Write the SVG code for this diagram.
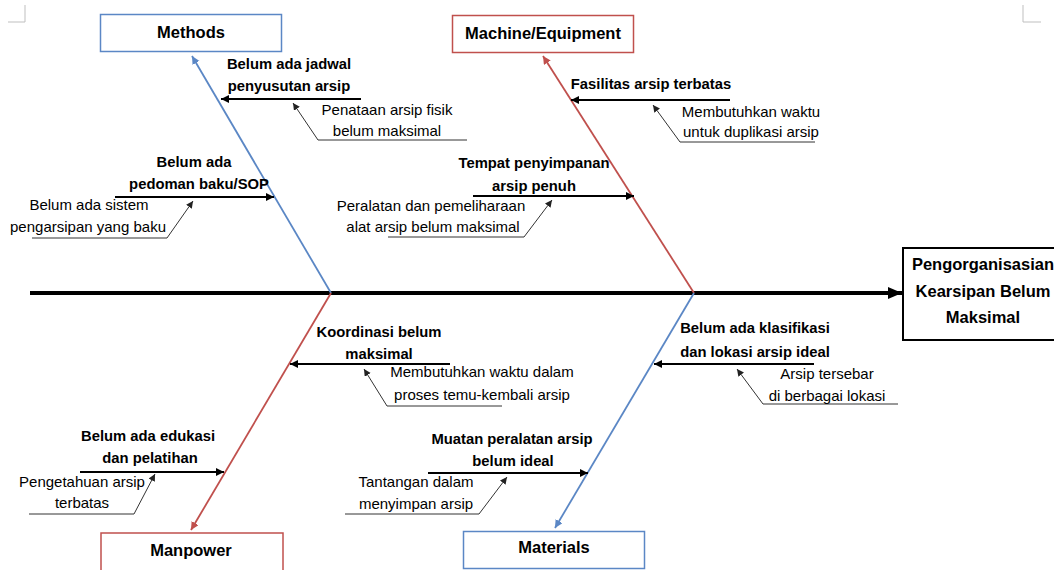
<svg xmlns="http://www.w3.org/2000/svg" width="1054" height="570" viewBox="0 0 1054 570">
<style>
.lbl{font-family:"Liberation Sans",Arial,sans-serif;font-weight:bold;font-size:16.5px;fill:#000;text-anchor:middle}
.b{font-family:"Liberation Sans",Arial,sans-serif;font-weight:bold;font-size:14.8px;fill:#000;text-anchor:middle}
.r{font-family:"Liberation Sans",Arial,sans-serif;font-size:15px;fill:#000;text-anchor:middle}
.bluebox{fill:#fff;stroke:#5B87C5;stroke-width:1.5}
.redbox{fill:#fff;stroke:#C0504D;stroke-width:1.5}
.blue{stroke:#5B87C5;stroke-width:1.8;fill:none}
.red{stroke:#C0504D;stroke-width:1.8;fill:none}
.sub{stroke:#000;stroke-width:2;fill:none}
.thin{stroke:#333;stroke-width:1;fill:none}
.corner{stroke:#bfbfbf;stroke-width:1;fill:none}
</style>
<defs>
<marker id="ab" markerWidth="10" markerHeight="10" refX="8" refY="4" orient="auto" markerUnits="userSpaceOnUse"><path d="M0,0 L8,4 L0,8 Z" fill="#000"/></marker>
<marker id="at" markerWidth="10" markerHeight="10" refX="7" refY="3.5" orient="auto" markerUnits="userSpaceOnUse"><path d="M0,0 L7,3.5 L0,7 Z" fill="#222"/></marker>
<marker id="abl" markerWidth="10" markerHeight="10" refX="8" refY="4" orient="auto" markerUnits="userSpaceOnUse"><path d="M0,0 L8,4 L0,8 Z" fill="#5B87C5"/></marker>
<marker id="are" markerWidth="10" markerHeight="10" refX="8" refY="4" orient="auto" markerUnits="userSpaceOnUse"><path d="M0,0 L8,4 L0,8 Z" fill="#C0504D"/></marker>
<marker id="asp" markerWidth="16" markerHeight="14" refX="14" refY="6" orient="auto" markerUnits="userSpaceOnUse"><path d="M0,0 L14,6 L0,12 Z" fill="#000"/></marker>
</defs>
<path class="corner" d="M8,22 H25 V5"/>
<path class="corner" d="M1023,5 V22 H1041"/>
<g id="connectors">
<line x1="30" y1="293" x2="902" y2="293" stroke="#000" stroke-width="4" marker-end="url(#asp)"/>
<line class="blue" x1="331" y1="293" x2="192" y2="56" marker-end="url(#abl)"/>
<line class="red" x1="694" y1="293" x2="543" y2="56" marker-end="url(#are)"/>
<line class="red" x1="331" y1="293" x2="191" y2="530" marker-end="url(#are)"/>
<line class="blue" x1="694" y1="293" x2="555" y2="528" marker-end="url(#abl)"/>
<line class="sub" x1="361" y1="99" x2="221" y2="99" marker-end="url(#ab)"/>
<path class="thin" d="M467,140 H318 L293,103" marker-end="url(#at)"/>
<line class="sub" x1="115" y1="197" x2="274" y2="197" marker-end="url(#ab)"/>
<path class="thin" d="M32,238 H167 L193,201" marker-end="url(#at)"/>
<line class="sub" x1="730" y1="100" x2="571" y2="100" marker-end="url(#ab)"/>
<path class="thin" d="M815,142 H680 L653,105" marker-end="url(#at)"/>
<line class="sub" x1="473" y1="196" x2="634" y2="196" marker-end="url(#ab)"/>
<path class="thin" d="M388,237 H524 L552,200" marker-end="url(#at)"/>
<line class="sub" x1="450" y1="364" x2="290" y2="364" marker-end="url(#ab)"/>
<path class="thin" d="M502,406 H387 L364,369" marker-end="url(#at)"/>
<line class="sub" x1="80" y1="472" x2="224" y2="472" marker-end="url(#ab)"/>
<path class="thin" d="M29,514 H134 L155,474" marker-end="url(#at)"/>
<line class="sub" x1="814" y1="364" x2="654" y2="364" marker-end="url(#ab)"/>
<path class="thin" d="M898,404 H763 L737,369" marker-end="url(#at)"/>
<line class="sub" x1="428" y1="473" x2="588" y2="473" marker-end="url(#ab)"/>
<path class="thin" d="M345,514 H479 L507,477" marker-end="url(#at)"/>
</g>
<g id="methods"><rect class="bluebox" x="100.5" y="14.5" width="181" height="37"/><text class="lbl" x="191" y="38">Methods</text></g>
<g id="machine"><rect class="redbox" x="452.5" y="15.5" width="181" height="37"/><text class="lbl" x="543" y="39">Machine/Equipment</text></g>
<g id="manpower"><rect class="redbox" x="101" y="533" width="182" height="45"/><text class="lbl" x="191" y="556">Manpower</text></g>
<g id="materials"><rect class="bluebox" x="463.5" y="531.5" width="181" height="37"/><text class="lbl" x="554" y="553">Materials</text></g>
<g id="effect"><rect x="903" y="248" width="160" height="92" fill="#fff" stroke="#000" stroke-width="2"/>
<text class="lbl" x="983" y="270">Pengorganisasian</text><text class="lbl" x="983" y="297">Kearsipan Belum</text><text class="lbl" x="983" y="323">Maksimal</text></g>
<g id="m1"><text class="b" x="289" y="69">Belum ada jadwal</text><text class="b" x="289" y="91">penyusutan arsip</text></g>
<g id="m1a"><text class="r" x="387" y="115">Penataan arsip fisik</text><text class="r" x="387" y="136">belum maksimal</text></g>
<g id="m2"><text class="b" x="194" y="167">Belum ada</text><text class="b" x="199" y="189">pedoman baku/SOP</text></g>
<g id="m2a"><text class="r" x="89" y="210">Belum ada sistem</text><text class="r" x="88" y="232">pengarsipan yang baku</text></g>
<g id="e1"><text class="b" x="651" y="89">Fasilitas arsip terbatas</text></g>
<g id="e1a"><text class="r" x="751" y="117">Membutuhkan waktu</text><text class="r" x="751" y="137">untuk duplikasi arsip</text></g>
<g id="e2"><text class="b" x="534" y="168">Tempat penyimpanan</text><text class="b" x="534" y="191">arsip penuh</text></g>
<g id="e2a"><text class="r" x="431" y="211">Peralatan dan pemeliharaan</text><text class="r" x="433" y="232">alat arsip belum maksimal</text></g>
<g id="p1"><text class="b" x="379" y="337">Koordinasi belum</text><text class="b" x="379" y="359">maksimal</text></g>
<g id="p1a"><text class="r" x="482" y="377">Membutuhkan waktu dalam</text><text class="r" x="482" y="400">proses temu-kembali arsip</text></g>
<g id="p2"><text class="b" x="148" y="441">Belum ada edukasi</text><text class="b" x="150" y="463">dan pelatihan</text></g>
<g id="p2a"><text class="r" x="82" y="487">Pengetahuan arsip</text><text class="r" x="82" y="508">terbatas</text></g>
<g id="t1"><text class="b" x="755" y="333">Belum ada klasifikasi</text><text class="b" x="755" y="357">dan lokasi arsip ideal</text></g>
<g id="t1a"><text class="r" x="827" y="379">Arsip tersebar</text><text class="r" x="827" y="401">di berbagai lokasi</text></g>
<g id="t2"><text class="b" x="512" y="444">Muatan peralatan arsip</text><text class="b" x="513" y="466">belum ideal</text></g>
<g id="t2a"><text class="r" x="416" y="487">Tantangan dalam</text><text class="r" x="416" y="509">menyimpan arsip</text></g>
</svg>
